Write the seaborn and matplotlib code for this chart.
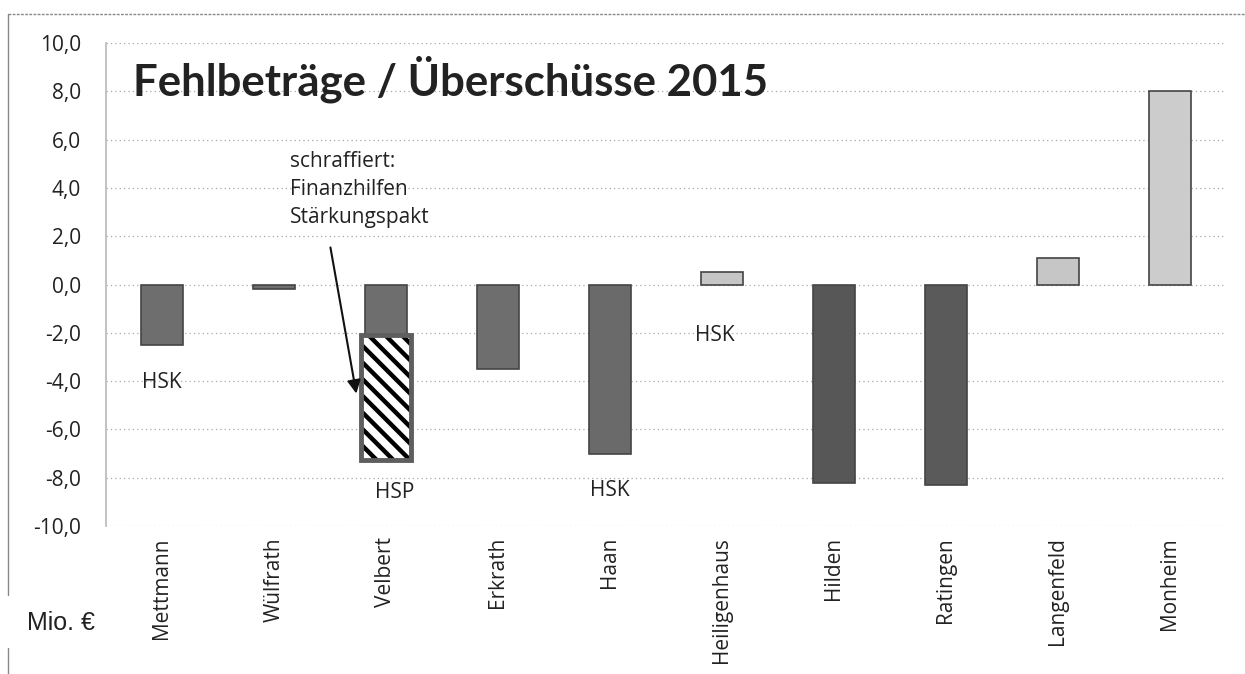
import matplotlib
matplotlib.use("Agg")
import matplotlib.pyplot as plt
import seaborn as sns
import pandas as pd
from matplotlib.lines import Line2D
from matplotlib.ticker import FuncFormatter

# ---- data ----
cities = ["Mettmann", "Wülfrath", "Velbert", "Erkrath", "Haan",
          "Heiligenhaus", "Hilden", "Ratingen", "Langenfeld", "Monheim"]
values = [-2.5, -0.2, -2.1, -3.5, -7.0, 0.5, -8.2, -8.3, 1.1, 8.0]
# Velbert: hatched part = Finanzhilfen Stärkungspakt (stacked below grey part)
hatched_city = "Velbert"
hatched_value = -5.15
labels_city = ["Mettmann", "Velbert", "Haan", "Heiligenhaus"]
labels_text = ["HSK", "HSP", "HSK", "HSK"]
labels_y = [-4.05, -8.6, -8.55, -2.1]
note_lines = ["schraffiert:", "Finanzhilfen", "Stärkungspakt"]
yticks = [-10, -8, -6, -4, -2, 0, 2, 4, 6, 8, 10]

colors = {"Mettmann": "#6e6e6e", "Wülfrath": "#6e6e6e", "Velbert": "#6e6e6e",
          "Erkrath": "#6e6e6e", "Haan": "#6a6a6a", "Heiligenhaus": "#c6c6c6",
          "Hilden": "#575757", "Ratingen": "#5a5a5a", "Langenfeld": "#c6c6c6",
          "Monheim": "#cccccc"}

df = pd.DataFrame({"city": cities, "value": values})

sns.set_theme(style="white")
plt.rcParams["font.family"] = ["Open Sans", "DejaVu Sans"]
plt.rcParams["hatch.linewidth"] = 3.2
plt.rcParams["hatch.color"] = "black"

fig = plt.figure(figsize=(12.45, 6.74), dpi=100)
ax = fig.add_axes([0.0851, 0.2196, 0.8996, 0.7164])

sns.barplot(data=df, x="city", y="value", hue="city", palette=colors,
            legend=False, width=0.38, ax=ax, edgecolor="#444444", linewidth=1.2,
            saturation=1)

# hatched Stärkungspakt part (black hatch, grey outline drawn on top)
xi = cities.index(hatched_city)
base = values[xi]
ax.bar(xi, hatched_value, bottom=base, width=0.44, facecolor="white",
       edgecolor="black", linewidth=0, hatch="\\\\", zorder=3)
ax.bar(xi, hatched_value, bottom=base, width=0.44, facecolor="none",
       edgecolor="#5e5e5e", linewidth=3.5, zorder=4)

ax.set_ylim(-10, 10)
ax.set_xlim(-0.5, len(cities) - 0.5)
ax.set_yticks(yticks)
ax.yaxis.set_major_formatter(FuncFormatter(lambda v, p: f"{v:.1f}".replace(".", ",")))
ax.grid(axis="y", linestyle=(0, (1, 2.5)), color="#a8a8a8", linewidth=0.9)
ax.set_axisbelow(True)
for s in ["top", "right", "bottom"]:
    ax.spines[s].set_visible(False)
ax.spines["left"].set_color("#bbbbbb")
ax.spines["left"].set_linestyle((0, (1, 1)))
ax.tick_params(axis="y", labelsize=15, length=0, pad=18, colors="#222222")
ax.tick_params(axis="x", labelsize=15, length=0, pad=8, colors="#222222")
plt.setp(ax.get_xticklabels(), rotation=90)
ax.set_xlabel("")
ax.set_ylabel("")

# annotations
for c, t, yv in zip(labels_city, labels_text, labels_y):
    ax.text(cities.index(c) + (0.08 if c == "Velbert" else 0.0) - (0.06 if c == "Heiligenhaus" else 0),
            yv, t, ha="center", va="center", fontsize=15, color="#222222")

for yv, line in zip([5.08, 3.93, 2.77], note_lines):
    ax.text(1.14, yv, line, ha="left", va="center", fontsize=15, color="#222222")
ax.annotate("", xy=(xi - 0.26, -4.63), xytext=(xi - 0.5, 1.65),
            arrowprops=dict(arrowstyle="-|>", color="#111111", lw=1.5,
                            mutation_scale=20), zorder=5)

ax.text(-0.26, 7.85, "Fehlbeträge / Überschüsse 2015", ha="left", va="baseline",
        fontsize=31.5, fontweight="bold", color="#222222", family=["Lato", "DejaVu Sans"])

fig.text(27 / 1245, 1 - 623 / 674, "Mio. €", ha="left", va="center",
         fontsize=18, family=["Liberation Sans", "DejaVu Sans"], color="#222222")

# outer frame of the chart
fig.add_artist(Line2D([8 / 1245, 1.0], [1 - 14 / 674] * 2, color="#888888", lw=1,
                      linestyle=(0, (2, 1))))
fig.add_artist(Line2D([8 / 1245] * 2, [1 - 14 / 674, 1 - 595 / 674], color="#888888", lw=1))
fig.add_artist(Line2D([8 / 1245] * 2, [1 - 648 / 674, 0.0], color="#888888", lw=1))

fig.savefig("out.png", dpi=100)
